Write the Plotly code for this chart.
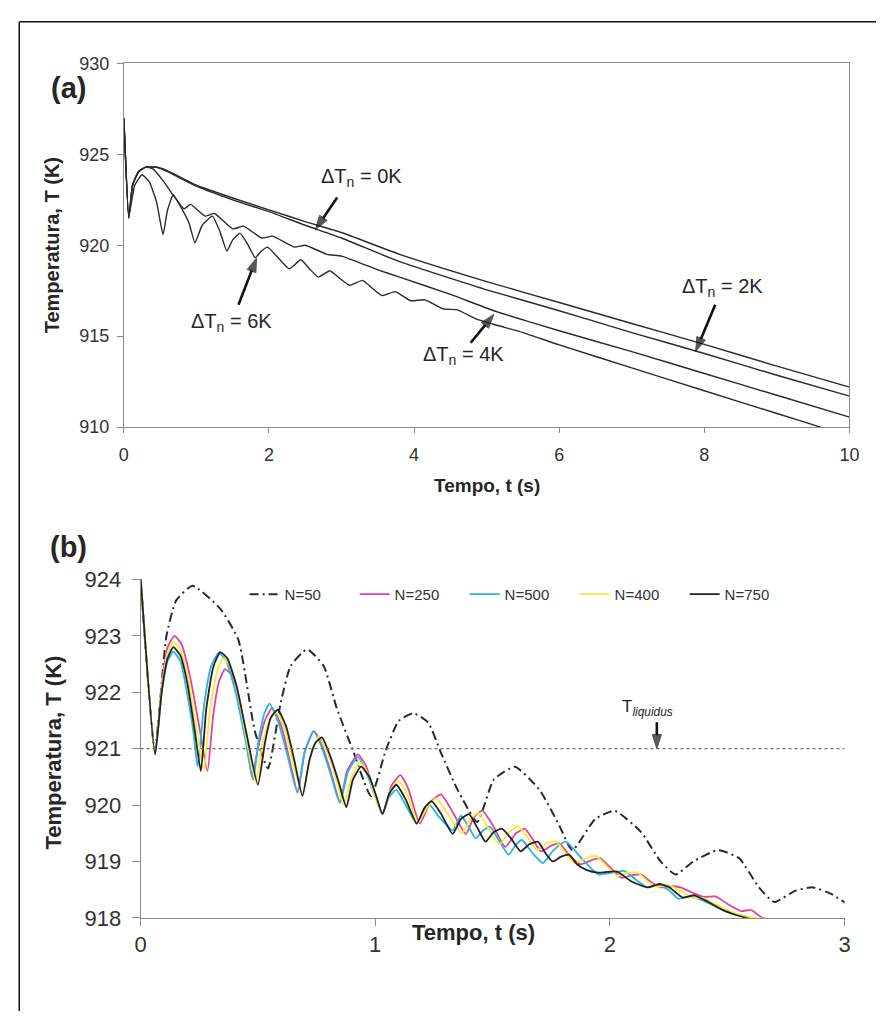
import plotly.graph_objects as go

# ---------------- Panel (a): cooling curves for several nucleation undercoolings
t_0K = [0, 0.068, 0.12, 0.2, 0.3, 0.45, 0.6, 1.0, 1.5, 2.0, 2.5, 3.0, 3.8, 5.0, 6.0, 7.0, 8.0, 9.0, 10.0]
T_0K = [927.0, 921.5, 923.3, 924.05, 924.3, 924.3, 924.1, 923.3, 922.6, 921.95, 921.3, 920.7, 919.5,
        918.0, 916.85, 915.7, 914.55, 913.35, 912.2]

t_2K = [0, 0.068, 0.12, 0.2, 0.3, 0.45, 0.6, 1.0, 1.5, 2.0, 2.5, 3.0, 3.8, 5.0, 6.0, 7.0, 8.0, 9.0, 10.0]
T_2K = [927.0, 921.5, 923.3, 924.05, 924.3, 924.28, 924.05, 923.25, 922.5, 921.85, 921.1, 920.4, 919.1,
        917.55, 916.4, 915.2, 914.05, 912.85, 911.7]

t_4K = [0, 0.068, 0.12, 0.2, 0.3, 0.4, 0.55, 0.68, 0.83, 0.92, 1.12, 1.25, 1.5, 1.65, 1.9, 2.05,
        2.35, 2.5, 2.8, 3.0, 3.5, 3.8, 4.5, 5.1, 6.0, 7.0, 8.0, 9.0, 10.0]
T_4K = [927.0, 921.5, 923.3, 924.0, 924.3, 924.2, 923.5, 922.75, 922.0, 922.25, 921.6, 921.75, 920.9,
        921.05, 920.4, 920.5, 919.9, 920.0, 919.5, 919.4, 918.65, 918.25, 917.3, 916.4, 915.3, 914.15,
        912.95, 911.75, 910.55]

t_6K = [0, 0.068, 0.15, 0.25, 0.35, 0.45, 0.54, 0.6, 0.68, 0.8, 0.9, 0.98, 1.08, 1.22, 1.32, 1.42,
        1.5, 1.6, 1.7, 1.81, 1.9, 1.98, 2.13, 2.28, 2.44, 2.56, 2.68, 2.84, 2.97, 3.11, 3.29, 3.42,
        3.56, 3.74, 3.95, 4.15, 4.4, 4.6, 4.85, 5.14, 5.5, 6.0, 7.0, 8.0, 9.0, 9.6, 9.8]
T_6K = [927.0, 921.6, 923.3, 923.88, 923.5, 922.4, 920.58, 921.9, 922.78, 922.0, 921.2, 920.13, 921.1,
        921.6, 920.8, 919.68, 920.3, 920.67, 920.1, 919.32, 919.7, 919.9, 919.3, 918.7, 919.2, 918.7,
        918.25, 918.6, 918.2, 917.8, 918.07, 917.65, 917.23, 917.45, 916.95, 917.0, 916.5, 916.45,
        915.95, 915.6, 915.2, 914.52, 913.26, 912.0, 910.75, 910.0, 909.75]

# ---------------- Panel (b): effect of the number of nodes N
t_N50 = [0, 0.061, 0.11, 0.152, 0.222, 0.34, 0.417, 0.487, 0.543, 0.598, 0.64, 0.71, 0.78, 0.836,
         0.905, 0.982, 1.045, 1.1, 1.163, 1.226, 1.282, 1.351, 1.435, 1.505, 1.595, 1.7, 1.784,
         1.84, 1.937, 2.02, 2.133, 2.216, 2.28, 2.356, 2.46, 2.55, 2.635, 2.70, 2.79, 2.865, 2.94, 3.01]
T_N50 = [924.05, 920.97, 922.99, 923.63, 923.89, 923.48, 922.93, 921.31, 920.65, 921.83, 922.47, 922.76,
         922.47, 921.72, 920.97, 920.16, 920.97, 921.49, 921.63, 921.46, 920.91, 920.27, 919.7, 920.45,
         920.68, 920.27, 919.64, 919.2, 919.75, 919.9, 919.52, 919.0, 918.77, 919.0, 919.2, 919.06,
         918.54, 918.28, 918.48, 918.54, 918.43, 918.25]

t_N250 = [0, 0.062, 0.09, 0.115, 0.145, 0.175, 0.21, 0.25, 0.285, 0.31, 0.335, 0.36, 0.39, 0.42, 0.45,
          0.475, 0.5, 0.53, 0.56, 0.6, 0.635, 0.67, 0.7, 0.738, 0.77, 0.81, 0.85, 0.88, 0.926, 0.96,
          1.0, 1.031, 1.07, 1.107, 1.14, 1.19, 1.235, 1.28, 1.32, 1.386, 1.42, 1.456, 1.5, 1.554, 1.6,
          1.637, 1.67, 1.707, 1.75, 1.784, 1.83, 1.874, 1.92, 1.958, 2.0, 2.05, 2.1, 2.133, 2.17, 2.216,
          2.26, 2.3, 2.35, 2.4, 2.45, 2.5, 2.56, 2.6, 2.65, 2.704]
T_N250 = [924.05, 920.9, 922.1, 922.8, 923.0, 922.85, 922.3, 921.4, 920.6, 921.6, 922.2, 922.41, 922.3,
          921.9, 921.2, 920.5, 921.0, 921.5, 921.72, 921.4, 920.8, 920.22, 920.95, 921.31, 921.1, 920.6,
          920.05, 920.6, 920.9, 920.7, 920.2, 919.84, 920.35, 920.53, 920.3, 919.67, 920.05, 920.19,
          919.95, 919.49, 919.78, 919.9, 919.65, 919.26, 919.5, 919.58, 919.4, 919.18, 919.28, 919.32,
          919.1, 918.95, 919.02, 919.06, 918.9, 918.71, 918.76, 918.77, 918.65, 918.54, 918.56, 918.54,
          918.45, 918.37, 918.38, 918.25, 918.12, 918.14, 918.0, 917.96]

t_N500 = [0, 0.062, 0.09, 0.115, 0.14, 0.17, 0.2, 0.225, 0.243, 0.27, 0.3, 0.333, 0.365, 0.405, 0.445,
          0.48, 0.505, 0.53, 0.55, 0.585, 0.625, 0.668, 0.7, 0.738, 0.77, 0.81, 0.849, 0.885, 0.926,
          0.96, 1.0, 1.031, 1.06, 1.09, 1.13, 1.177, 1.205, 1.23, 1.27, 1.33, 1.365, 1.4, 1.428, 1.46,
          1.49, 1.53, 1.568, 1.6, 1.625, 1.67, 1.714, 1.76, 1.812, 1.88, 1.95, 2.01, 2.063, 2.11, 2.16,
          2.21, 2.25, 2.29, 2.34, 2.4, 2.45, 2.49, 2.55, 2.613]
T_N500 = [924.05, 920.9, 922.0, 922.55, 922.72, 922.55, 921.95, 921.3, 920.68, 921.75, 922.45, 922.7,
          922.55, 922.0, 921.2, 920.45, 921.2, 921.65, 921.8, 921.5, 920.9, 920.22, 920.95, 921.31,
          921.05, 920.55, 920.04, 920.6, 920.85, 920.6, 920.15, 919.84, 920.15, 920.27, 920.0, 919.67,
          919.9, 920.01, 919.8, 919.55, 919.81, 919.6, 919.41, 919.55, 919.61, 919.35, 919.12, 919.3,
          919.38, 919.15, 918.97, 919.2, 919.35, 919.05, 918.77, 918.8, 918.83, 918.68, 918.54, 918.58,
          918.5, 918.34, 918.38, 918.3, 918.2, 918.14, 918.05, 917.96]

t_N400 = [0, 0.062, 0.09, 0.115, 0.14, 0.17, 0.205, 0.24, 0.27, 0.295, 0.325, 0.35, 0.38, 0.415, 0.45,
          0.49, 0.52, 0.55, 0.58, 0.615, 0.65, 0.69, 0.72, 0.76, 0.8, 0.835, 0.865, 0.9, 0.935, 0.97,
          1.0, 1.031, 1.065, 1.1, 1.14, 1.18, 1.22, 1.26, 1.3, 1.37, 1.405, 1.44, 1.48, 1.53, 1.57,
          1.61, 1.65, 1.69, 1.73, 1.77, 1.81, 1.85, 1.9, 1.94, 1.99, 2.03, 2.08, 2.12, 2.16, 2.2, 2.25,
          2.29, 2.35, 2.4, 2.46, 2.52, 2.58, 2.676]
T_N400 = [924.05, 920.9, 922.05, 922.7, 922.9, 922.75, 922.2, 921.3, 920.62, 921.65, 922.35, 922.6,
          922.48, 922.0, 921.2, 920.42, 921.1, 921.5, 921.65, 921.35, 920.75, 920.18, 920.8, 921.22,
          920.9, 920.45, 920.0, 920.5, 920.75, 920.55, 920.15, 919.84, 920.25, 920.43, 920.15, 919.68,
          919.95, 920.12, 919.9, 919.5, 919.75, 919.86, 919.6, 919.3, 919.52, 919.62, 919.42, 919.2,
          919.32, 919.36, 919.15, 918.97, 919.06, 919.1, 918.9, 918.75, 918.8, 918.8, 918.65, 918.55,
          918.58, 918.5, 918.36, 918.35, 918.22, 918.1, 918.03, 917.96]

t_N750 = [0, 0.062, 0.09, 0.115, 0.14, 0.17, 0.2, 0.23, 0.257, 0.28, 0.31, 0.34, 0.37, 0.41, 0.45, 0.5,
          0.53, 0.555, 0.585, 0.62, 0.655, 0.69, 0.72, 0.745, 0.773, 0.81, 0.845, 0.877, 0.905, 0.94,
          0.975, 1.005, 1.031, 1.06, 1.09, 1.13, 1.177, 1.21, 1.24, 1.28, 1.33, 1.365, 1.4, 1.435, 1.47,
          1.505, 1.54, 1.58, 1.62, 1.655, 1.693, 1.725, 1.756, 1.79, 1.826, 1.86, 1.9, 1.95, 2.03, 2.09,
          2.16, 2.21, 2.25, 2.31, 2.36, 2.42, 2.48, 2.537, 2.58, 2.613]
T_N750 = [924.05, 920.9, 922.0, 922.6, 922.8, 922.65, 922.15, 921.35, 920.6, 921.7, 922.45, 922.71,
          922.6, 922.1, 921.3, 920.36, 921.1, 921.55, 921.69, 921.4, 920.8, 920.16, 920.8, 921.1, 921.2,
          920.85, 920.4, 919.96, 920.45, 920.68, 920.5, 920.15, 919.84, 920.2, 920.36, 920.1, 919.67,
          919.95, 920.07, 919.85, 919.49, 919.75, 919.84, 919.6, 919.35, 919.52, 919.58, 919.4, 919.18,
          919.3, 919.35, 919.15, 919.0, 919.08, 919.12, 918.95, 918.85, 918.8, 918.82, 918.65, 918.54,
          918.6, 918.55, 918.36, 918.4, 918.28, 918.14, 918.05, 918.0, 917.96]

T_liquidus = 921.0

# ---------------- page geometry (pixels of the 886 x 1024 page)
W, H = 886, 1024
FONT = "Arial, Liberation Sans, sans-serif"
TXT = "#262626"
AXC = "#8a8a8a"
ARROW = "#111111"


def fx(p):
    return p / W


def fy(p):
    return 1 - p / H


fig = go.Figure()

curve_a = dict(color="#2b2b2b", width=1.4, shape="spline", smoothing=0.4)
for tt, TT, nm in [(t_0K, T_0K, "0K"), (t_2K, T_2K, "2K"), (t_4K, T_4K, "4K"), (t_6K, T_6K, "6K")]:
    fig.add_trace(go.Scatter(x=tt, y=TT, mode="lines", line=curve_a, name=nm,
                             showlegend=False, xaxis="x", yaxis="y", hoverinfo="skip"))

series_b = [
    (t_N50, T_N50, "N=50", dict(color="#2b2b2b", width=2, dash="9px,4px,2px,4px")),
    (t_N250, T_N250, "N=250", dict(color="#e8409a", width=1.8)),
    (t_N500, T_N500, "N=500", dict(color="#2bb3e6", width=1.8)),
    (t_N400, T_N400, "N=400", dict(color="#f7ea3a", width=1.8)),
    (t_N750, T_N750, "N=750", dict(color="#222222", width=1.8)),
]
for tt, TT, nm, ln in series_b:
    ln = dict(ln, shape="spline", smoothing=0.5)
    fig.add_trace(go.Scatter(x=tt, y=TT, mode="lines", line=ln, name=nm,
                             xaxis="x2", yaxis="y2", hoverinfo="skip"))


def add_arrow(tail, head, xa, ya):
    """Pointer arrow: a thick shaft with an arrowhead marker oriented along it."""
    fig.add_trace(go.Scatter(
        x=[tail[0], head[0]], y=[tail[1], head[1]], mode="lines+markers",
        line=dict(color=ARROW, width=2.6),
        marker=dict(symbol=["circle", "arrow"], size=[0, 15], color=ARROW,
                    angleref="previous", line=dict(width=1, color=ARROW)),
        xaxis=xa, yaxis=ya, showlegend=False, hoverinfo="skip", cliponaxis=False))


ann = []

# delta-T labels and arrows of panel (a)
labels_a = [
    # text x, text y, label, arrow tail (t, T), arrow head (t, T)
    (3.27, 923.7, "0K", (2.94, 922.63), (2.64, 920.86)),
    (1.49, 915.77, "6K", (1.58, 916.73), (1.83, 919.31)),
    (4.68, 913.94, "4K", (4.78, 914.64), (5.10, 916.2)),
    (8.25, 917.7, "2K", (8.15, 916.73), (7.88, 914.16)),
]
for xt, yt, lab, tail, head in labels_a:
    ann.append(dict(x=xt, y=yt, xref="x", yref="y", showarrow=False,
                    xanchor="center", yanchor="middle",
                    text="\u0394T<sub>n</sub> = " + lab,
                    font=dict(family=FONT, size=20, color=TXT)))
    add_arrow(tail, head, "x", "y")

# liquidus label of panel (b)
ann.append(dict(x=2.16, y=921.72, xref="x2", yref="y2", showarrow=False,
                xanchor="center", yanchor="middle",
                text="T<sub><i>liquidus</i></sub>",
                font=dict(family=FONT, size=17, color=TXT)))
add_arrow((2.2, 921.47), (2.2, T_liquidus), "x2", "y2")


def paper_text(px, py, text, size, angle=0):
    return dict(x=fx(px), y=fy(py), xref="paper", yref="paper", text=text, showarrow=False,
                xanchor="center", yanchor="middle", textangle=angle,
                font=dict(family=FONT, size=size, color=TXT))


# panel letters and axis titles
ann += [
    paper_text(64, 78, "<b>(a)</b>", 29),
    paper_text(64, 548, "<b>(b)</b>", 29),
    paper_text(47, 239, "<b>Temperatura, T (K)</b>", 20, -90),
    paper_text(490, 485, "<b>Tempo, t (s)</b>", 19),
    paper_text(48, 759, "<b>Temperatura, T (K)</b>", 22, -90),
    paper_text(476, 944, "<b>Tempo, t (s)</b>", 22),
]

shapes = [
    # liquidus temperature reference line
    dict(type="line", xref="x2", yref="y2", x0=0, x1=3, y0=T_liquidus, y1=T_liquidus,
         line=dict(color="#6e6e6e", width=1.2, dash="dot")),
    # outer frame
    dict(type="line", xref="paper", yref="paper", x0=fx(13.5), x1=fx(13.5), y0=0, y1=fy(10),
         line=dict(color="#111111", width=1.5)),
    dict(type="line", xref="paper", yref="paper", x0=fx(13.5), x1=1, y0=fy(10), y1=fy(10),
         line=dict(color="#111111", width=1.5)),
]

tickfont_a = dict(family=FONT, size=18, color="#333333")
tickfont_b = dict(family=FONT, size=22, color="#333333")

fig.update_layout(
    width=W, height=H,
    margin=dict(l=0, r=0, t=0, b=0),
    paper_bgcolor="white", plot_bgcolor="white",
    showlegend=True,
    legend=dict(orientation="h", x=fx(243), y=fy(597), xanchor="left", yanchor="middle",
                entrywidth=65, font=dict(family=FONT, size=15, color="#333333"),
                bgcolor="rgba(0,0,0,0)", tracegroupgap=0, itemwidth=30),
    annotations=ann,
    shapes=shapes,
    xaxis=dict(domain=[fx(120), fx(859)], range=[0, 10], tickvals=[0, 2, 4, 6, 8, 10],
               showline=True, mirror=True, linecolor=AXC, linewidth=1, ticks="outside",
               ticklen=5, tickcolor=AXC, showgrid=False, zeroline=False, tickfont=tickfont_a,
               ticklabelstandoff=6, anchor="y", fixedrange=True),
    yaxis=dict(domain=[fy(425.5), fy(52.7)], range=[910, 930], tickvals=[910, 915, 920, 925, 930],
               showline=True, mirror=True, linecolor=AXC, linewidth=1, ticks="outside",
               ticklen=6, tickcolor=AXC, showgrid=False, zeroline=False, tickfont=tickfont_a,
               ticklabelstandoff=4, anchor="x", fixedrange=True),
    xaxis2=dict(domain=[fx(137), fx(854)], range=[0, 3], tickvals=[0, 1, 2, 3],
                showline=True, linecolor=AXC, linewidth=1, ticks="outside", ticklen=7,
                tickcolor=AXC, showgrid=False, zeroline=False, tickfont=tickfont_b,
                anchor="y2", fixedrange=True),
    yaxis2=dict(domain=[fy(928.5), fy(581.7)], range=[918, 924],
                tickvals=[918, 919, 920, 921, 922, 923, 924],
                showline=True, linecolor=AXC, linewidth=1, ticks="outside", ticklen=8,
                tickcolor=AXC, showgrid=False, zeroline=False, tickfont=tickfont_b,
                ticklabelstandoff=6, anchor="x2", fixedrange=True),
)

# the page body should not add its default margin around the figure
fig.write_html("out.html", config={"displayModeBar": False},
               post_script="document.body.style.margin='0px';")
